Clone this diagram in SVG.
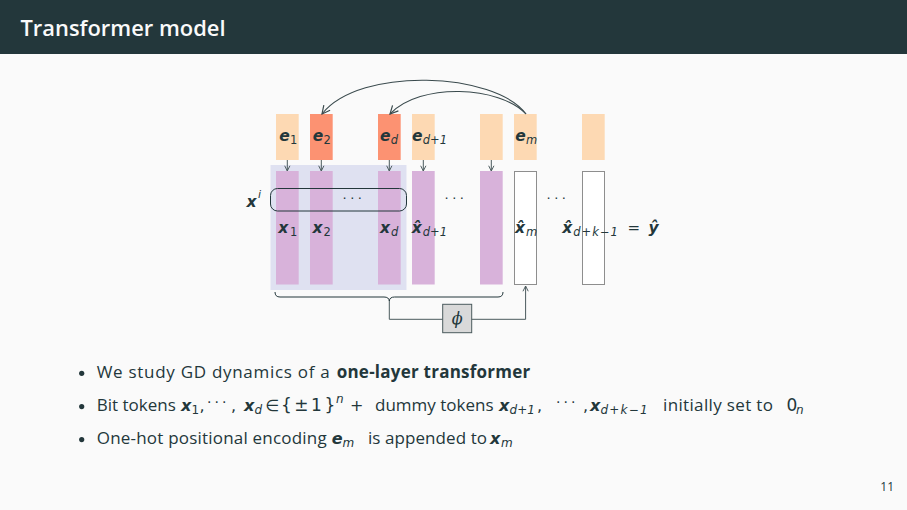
<svg xmlns="http://www.w3.org/2000/svg" width="907" height="510" viewBox="0 0 907 510">
<defs>
<style>
.t{font-family:"Open Sans","Noto Sans",sans-serif;fill:#23373B}
.bi{font-family:"DejaVu Sans",sans-serif;font-style:oblique;font-weight:bold;fill:#23373B}
.it{font-family:"DejaVu Sans",sans-serif;font-style:oblique;fill:#23373B}
.rm{font-family:"DejaVu Sans",sans-serif;fill:#23373B}
.peach{fill:#FDD9B3}
.salmon{fill:#FC9272}
.purp{fill:#D8B2DA}
.wbox{fill:#FFFFFF;stroke:#8E8E8E;stroke-width:1}
.ln{fill:none;stroke:#4A5A5D;stroke-width:1}
</style>
<marker id="ah" viewBox="0 0 8 8" refX="7" refY="4" markerWidth="7" markerHeight="7" orient="auto" markerUnits="userSpaceOnUse">
<path d="M1,1 L7,4 L1,7" fill="none" stroke="#4A5A5D" stroke-width="1.1"/>
</marker>
<marker id="ahb" viewBox="0 0 10 10" refX="9" refY="5" markerWidth="10" markerHeight="10" orient="auto" markerUnits="userSpaceOnUse">
<path d="M1,1 L9,5 L1,9" fill="none" stroke="#3A4A4D" stroke-width="1.2"/>
</marker>
</defs>
<rect x="0" y="0" width="907" height="510" fill="#FAFAFA"/>
<g id="header">
<rect x="0" y="0" width="907" height="54" fill="#23373B"/>
<text x="20.5" y="36" font-family="Open Sans, Noto Sans, sans-serif" font-size="22" font-weight="600" fill="#FAFAFA" textLength="205" lengthAdjust="spacingAndGlyphs">Transformer model</text>
</g>

<g id="input-group-bg">
<rect x="270.5" y="165" width="136" height="125" fill="#DFE1F1"/>
</g>

<g id="pos-e1"><rect class="peach" x="276" y="114" width="22.7" height="46"/>
<text class="bi" x="279.3" y="141" font-size="15.5">e</text><text class="rm" x="290" y="144" font-size="11.5">1</text></g>
<g id="pos-e2"><rect class="salmon" x="310" y="114" width="22.7" height="46"/>
<text class="bi" x="312.7" y="141" font-size="15.5">e</text><text class="rm" x="323.5" y="144" font-size="11.5">2</text></g>
<g id="pos-ed"><rect class="salmon" x="378" y="114" width="22.7" height="46"/>
<text class="bi" x="380" y="141" font-size="15.5">e</text><text class="it" x="390.7" y="144" font-size="11.5">d</text></g>
<g id="pos-ed1"><rect class="peach" x="412" y="114" width="22.7" height="46"/>
<text class="bi" x="412" y="141" font-size="15.5">e</text><text class="it" x="422.7" y="144" font-size="11.5">d<tspan class="rm">+1</tspan></text></g>
<g id="pos-e5"><rect class="peach" x="480" y="114" width="22.7" height="46"/></g>
<g id="pos-em"><rect class="peach" x="514" y="114" width="22.7" height="46"/>
<text class="bi" x="515.3" y="141" font-size="15.5">e</text><text class="it" x="526" y="144" font-size="11.5">m</text></g>
<g id="pos-last"><rect class="peach" x="582" y="114" width="22.7" height="46"/></g>

<g id="tok-x1"><rect class="purp" x="276" y="171" width="22.7" height="113.5"/>
<text class="bi" x="278.3" y="233" font-size="15.5">x</text><text class="rm" x="290" y="236" font-size="11.5">1</text></g>
<g id="tok-x2"><rect class="purp" x="310" y="171" width="22.7" height="113.5"/>
<text class="bi" x="312.5" y="233" font-size="15.5">x</text><text class="rm" x="323.5" y="236" font-size="11.5">2</text></g>
<g id="tok-xd"><rect class="purp" x="378" y="171" width="22.7" height="113.5"/>
<text class="bi" x="380" y="233" font-size="15.5">x</text><text class="it" x="391" y="236" font-size="11.5">d</text></g>
<g id="tok-xd1"><rect class="purp" x="412" y="171" width="22.7" height="113.5"/>
<text class="bi" x="411.7" y="233" font-size="15.5">x̂</text><text class="it" x="422.7" y="236" font-size="11.5">d<tspan class="rm">+1</tspan></text></g>
<g id="tok-x5"><rect class="purp" x="480" y="171" width="22.7" height="113.5"/></g>
<g id="tok-xm"><rect class="wbox" x="514.5" y="171.5" width="22" height="113"/>
<text class="bi" x="515" y="233" font-size="15.5">x̂</text><text class="it" x="526" y="236" font-size="11.5">m</text></g>
<g id="tok-last"><rect class="wbox" x="582.5" y="171.5" width="22" height="113"/>
<text class="bi" x="562.3" y="233" font-size="15.5">x̂</text><text class="it" x="573.3" y="236" font-size="11.5" letter-spacing="1">d<tspan class="rm">+</tspan>k<tspan class="rm">−1</tspan></text>
<text class="rm" x="627.5" y="233" font-size="15">=</text>
<text class="bi" x="648.5" y="233" font-size="15.5">ŷ</text></g>

<g id="xi-window">
<rect x="270.5" y="188.5" width="136" height="22.5" rx="7" ry="7" fill="none" stroke="#23373B" stroke-width="1"/>
<text class="bi" x="246.5" y="207" font-size="15.5">x</text><text class="it" x="258" y="198" font-size="11">i</text>
<text class="rm" x="342.5" y="203" font-size="13" letter-spacing="3.5">···</text>
</g>
<g id="dots">
<text class="rm" x="444.5" y="203" font-size="13" letter-spacing="3.5">···</text>
<text class="rm" x="546.5" y="203" font-size="13" letter-spacing="3.5">···</text>
</g>

<g id="phi">
<rect x="442.7" y="304.3" width="29" height="28.4" fill="#D9D9D9" stroke="#4A5A5D" stroke-width="1"/>
<text x="457.2" y="324" font-family="DejaVu Serif, serif" font-style="italic" font-size="16" fill="#23373B" text-anchor="middle">ϕ</text>
</g>

<g id="connectors">
<line class="ln" x1="287.3" y1="160" x2="287.3" y2="171" marker-end="url(#ah)"/>
<line class="ln" x1="321.3" y1="160" x2="321.3" y2="171" marker-end="url(#ah)"/>
<line class="ln" x1="389.3" y1="160" x2="389.3" y2="171" marker-end="url(#ah)"/>
<line class="ln" x1="423.3" y1="160" x2="423.3" y2="171" marker-end="url(#ah)"/>
<line class="ln" x1="491.3" y1="160" x2="491.3" y2="171" marker-end="url(#ah)"/>
<path d="M526,114 C495,72 360,66 322,114" fill="none" stroke="#3A4A4D" stroke-width="1.1" marker-end="url(#ahb)"/>
<path d="M526,114 C500,86 420,82 390,114" fill="none" stroke="#3A4A4D" stroke-width="1.1" marker-end="url(#ahb)"/>
<path d="M275,292 Q275,297 280,297 L384,297 Q389,297 389.3,301 Q389.6,297 394.6,297 L498,297 Q503,297 503,292" fill="none" stroke="#23373B" stroke-width="1"/>
<path class="ln" d="M389.3,301 V319.3 H442.7"/>
<path class="ln" d="M471.7,319.3 H525.6 V286" marker-end="url(#ah)"/>
</g>

<g id="bullets">
<circle cx="81.7" cy="373.3" r="2.6" fill="#23373B"/>
<circle cx="81.7" cy="406.6" r="2.6" fill="#23373B"/>
<circle cx="81.7" cy="439.6" r="2.6" fill="#23373B"/>
<text class="t" x="96.7" y="377.5" font-size="17" textLength="233" lengthAdjust="spacing">We study GD dynamics of a</text>
<text class="t" x="336.7" y="377.5" font-size="17" font-weight="bold" textLength="193.5" lengthAdjust="spacing">one-layer transformer</text>

<text class="t" x="96.7" y="411" font-size="17">Bit tokens</text>
<text class="bi" x="181" y="411" font-size="16">x</text><text class="rm" x="191.5" y="414" font-size="12">1</text>
<text class="rm" x="199.5" y="411" font-size="16">,</text>
<text class="rm" x="207" y="407" font-size="14" letter-spacing="3">···</text>
<text class="rm" x="231" y="411" font-size="16">,</text>
<text class="bi" x="244" y="411" font-size="16">x</text><text class="it" x="254.5" y="414" font-size="12">d</text>
<text class="rm" x="265.5" y="411" font-size="16">∈</text>
<text class="rm" x="281" y="411" font-size="17" letter-spacing="2.5">{±1}</text>
<text class="it" x="336" y="403" font-size="12">n</text>
<text class="rm" x="350" y="411" font-size="16">+</text>
<text class="t" x="375" y="411" font-size="17">dummy tokens</text>
<text class="bi" x="499" y="411" font-size="16">x</text><text class="it" x="509.5" y="414" font-size="12">d<tspan class="rm">+1</tspan></text>
<text class="rm" x="537" y="411" font-size="16">,</text>
<text class="rm" x="556" y="407" font-size="14" letter-spacing="3">···</text>
<text class="rm" x="583" y="411" font-size="16">,</text>
<text class="bi" x="590" y="411" font-size="16">x</text><text class="it" x="600.5" y="414" font-size="12" letter-spacing="1.2">d<tspan class="rm">+</tspan>k<tspan class="rm">−1</tspan></text>
<text class="t" x="663" y="411" font-size="17" textLength="110" lengthAdjust="spacing">initially set to</text>
<text class="rm" x="786.5" y="411" font-size="17">0</text><text class="it" x="796" y="414" font-size="12">n</text>

<text class="t" x="96.7" y="444" font-size="17" textLength="230" lengthAdjust="spacing">One-hot positional encoding</text>
<text class="bi" x="331.7" y="444" font-size="16">e</text><text class="it" x="342.5" y="447" font-size="12">m</text>
<text class="t" x="368" y="444" font-size="17" textLength="119" lengthAdjust="spacing">is appended to</text>
<text class="bi" x="490" y="444" font-size="16">x</text><text class="it" x="501" y="447" font-size="12">m</text>
</g>

<g id="page-number">
<text class="t" x="894" y="490.5" font-size="12" text-anchor="end">11</text>
</g>
</svg>
